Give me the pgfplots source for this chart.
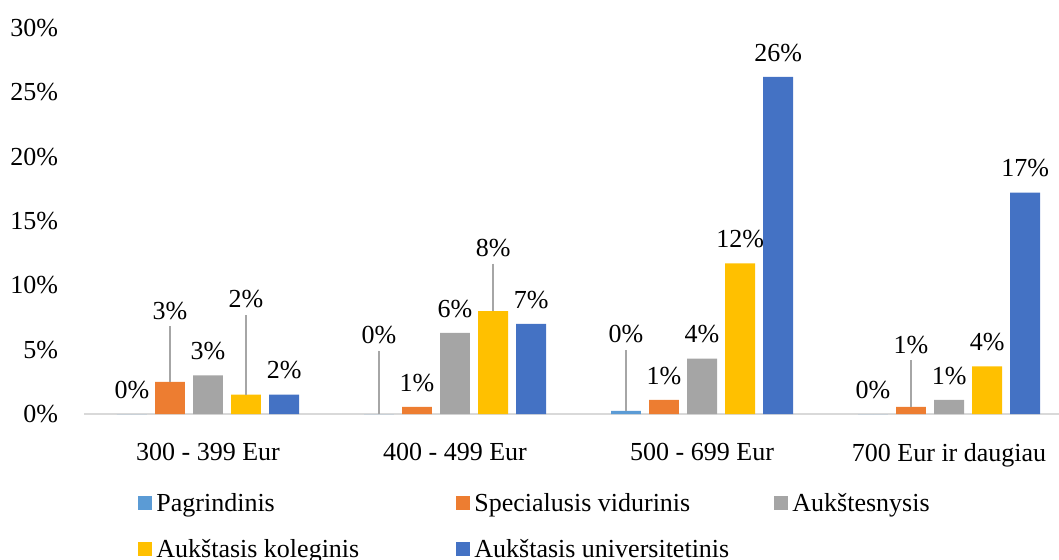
\documentclass[border=0pt]{standalone}
\usepackage{fontspec}
\setmainfont{Liberation Serif}
\usepackage{pgfplots}
\pgfplotsset{compat=1.18}
\usepackage{pgfplotstable}

\definecolor{cPag}{HTML}{5B9BD5}
\definecolor{cSpec}{HTML}{ED7D31}
\definecolor{cAuk}{HTML}{A5A5A5}
\definecolor{cKol}{HTML}{FFC000}
\definecolor{cUni}{HTML}{4472C4}
\definecolor{cLine}{HTML}{A6A6A6}
\definecolor{cAxis}{HTML}{D9D9D9}

% x = category, y = share in %, lab = label, sh = label lift (pt), e = leader line (in %)
\pgfplotstableread{
x y lab sh e
0 0 0 4.2 0
1 0 0 31.7 4.93
2 0.25 0 30.2 4.69
3 0 0 4.2 0
}\pag
\pgfplotstableread{
x y lab sh e
0 2.5 3 27.7 4.31
1 0.55 1 4.2 0
2 1.1 1 4.2 0
3 0.55 1 23.2 3.61
}\spec
\pgfplotstableread{
x y lab sh e
0 3.0 3 4.2 0
1 6.3 6 4.2 0
2 4.3 4 4.2 0
3 1.1 1 4.2 0
}\auk
\pgfplotstableread{
x y lab sh e
0 1.5 2 39.7 6.17
1 8.0 8 23.7 3.68
2 11.7 12 4.2 0
3 3.7 4 4.2 0
}\kol
\pgfplotstableread{
x y lab sh e
0 1.5 2 4.2 0
1 7.0 7 4.2 0
2 26.2 26 4.2 0
3 17.2 17 4.2 0
}\uni

\begin{document}
\begin{tikzpicture}
\begin{axis}[
    at={(42.25pt,72.5pt)}, anchor=south west,
    scale only axis, width=487.25pt, height=193pt,
    xmin=-0.5, xmax=3.445, ymin=0, ymax=30,
    clip=false,
    font=\fontsize{13}{15}\selectfont,
    axis x line*=bottom, axis y line*=left,
    x axis line style={draw=cAxis, line width=0.9pt, -},
    y axis line style={draw=none},
    xtick={0,1,2,3}, xtick style={draw=none},
    xticklabels={300 - 399 Eur, 400 - 499 Eur, 500 - 699 Eur, 700 Eur ir daugiau},
    xticklabel style={yshift=-7pt},
    ytick={0,5,...,30}, ytick style={draw=none},
    yticklabels={0\%,5\%,10\%,15\%,20\%,25\%,30\%},
    yticklabel style={xshift=-9.7pt},
    ybar, bar width=0.121,
    point meta=explicit symbolic,
    nodes near coords={\pgfplotspointmeta\%},
    visualization depends on={\thisrow{sh} \as \lblshift},
    every node near coord/.append style={
        text=black, font=\fontsize{13}{15}\selectfont,
        yshift=\lblshift pt},
    error bars/y dir=plus, error bars/y explicit,
    error bars/error mark=none,
    error bars/error bar style={cLine, line width=0.9pt},
    legend columns=3,
    legend cell align=left,
    legend style={draw=none, fill=none, inner sep=0pt, row sep=7pt,
        at={(0.0549,-0.1874)}, anchor=north west,
        font=\fontsize{13}{15}\selectfont,
        /tikz/every even column/.append style={column sep=0pt}},
    legend image code/.code={\fill[#1] (0pt,-3.5pt) rectangle (7pt,3.5pt);},
]
\addplot[fill=cPag, draw=none, bar shift=-0.308] table[x=x, y=y, y error=e, meta=lab] {\pag};
\addlegendentry{\makebox[148pt][l]{\strut Pagrindinis}}
\addplot[fill=cSpec, draw=none, bar shift=-0.154] table[x=x, y=y, y error=e, meta=lab] {\spec};
\addlegendentry{\makebox[148pt][l]{\strut Specialusis vidurinis}}
\addplot[fill=cAuk, draw=none, bar shift=0] table[x=x, y=y, y error=e, meta=lab] {\auk};
\addlegendentry{\strut Aukštesnysis}
\addplot[fill=cKol, draw=none, bar shift=0.154] table[x=x, y=y, y error=e, meta=lab] {\kol};
\addlegendentry{\makebox[148pt][l]{\strut Aukštasis koleginis}}
\addplot[fill=cUni, draw=none, bar shift=0.308] table[x=x, y=y, y error=e, meta=lab] {\uni};
\addlegendentry{\makebox[148pt][l]{\strut Aukštasis universitetinis}}
\end{axis}
\pgfresetboundingbox
\path[use as bounding box] (0pt,0pt) rectangle (529.5pt,279.5pt);
\end{tikzpicture}
\end{document}
